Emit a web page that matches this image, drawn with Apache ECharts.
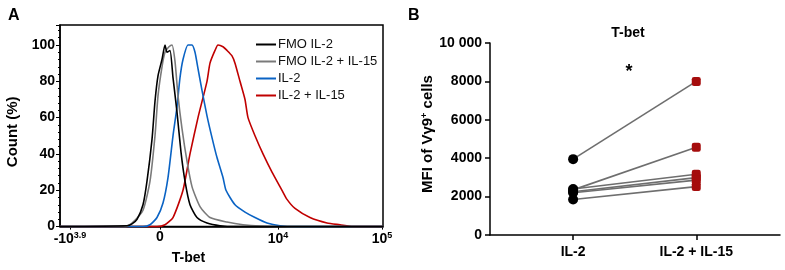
<!DOCTYPE html>
<html><head><meta charset="utf-8">
<script src="https://cdn.jsdelivr.net/npm/echarts@6/dist/echarts.min.js"></script>
<style>html,body{margin:0;padding:0;background:#fff}#c{width:785px;height:270px}</style>
</head><body><div id="c"></div>
<script>
// ---- Panel A: T-bet histograms (x = display channel on biexponential scale, y = count %) ----
const histNames = ['FMO IL-2', 'FMO IL-2 + IL-15', 'IL-2', 'IL-2 + IL-15'];
const histColors = ['#000000', '#7a7a7a', '#0a63c4', '#c00000'];
const fmoIL2 = [[0,0],[67,0.5],[72,1.5],[77,4],[83,12],[87,25],[92,48],[95,69],[98,83],[102,92],[105,100],[107,96],[110,97],[113,82],[117,63],[121,41],[125,25],[130,12],[137,5],[147,2],[160,0.5],[175,0],[323,0]];
const fmoIL2IL15 = [[0,0],[65,0],[72,2],[83,9],[90,25],[95,50],[98,72],[102,88],[105,96],[109,99],[112,100],[115,91],[118,72],[122,54],[127,36],[132,22],[140,11],[150,5],[167,2.5],[183,1],[200,0.3],[230,0],[323,0]];
const il2 = [[0,0],[83,0],[90,1],[97,5],[103,13],[108,27],[113,50],[117,66],[120,82],[123,92],[128,100],[132,100],[135,96],[138,87],[142,75],[147,61],[152,49],[157,38],[163,27],[166,20],[175,12],[185,8],[195,5],[207,2],[220,0.5],[235,0],[323,0]];
const il2IL15 = [[0,0],[97,0],[105,1],[113,5],[123,20],[130,40],[138,60],[147,80],[150,90],[155,97],[158,100],[163,99],[167,97],[172,94],[175,90],[180,80],[185,70],[188,60],[195,50],[203,40],[212,30],[222,20],[227,15],[235,10],[250,5],[267,2],[280,1],[293,0],[323,0]];
const histData = [fmoIL2, fmoIL2IL15, il2, il2IL15];
const xTickValues = [10, 100, 218, 322];
const xTickLabels = ['-10{s|3.9}', '0', '10{s|4}', '10{s|5}'];

// ---- Panel B: MFI of Vγ9+ cells, paired ----
const groups = ['IL-2', 'IL-2 + IL-15'];
const mfiIL2 = [3950, 2350, 2400, 2250, 2200, 1850];
const mfiIL2IL15 = [8000, 4570, 3160, 2990, 2860, 2520];

const FONT = 'Liberation Sans, Arial, sans-serif';
const series = [];
histNames.forEach((n, i) => {
  series.push({
    name: n, type: 'line', xAxisIndex: 0, yAxisIndex: 0,
    data: histData[i], symbol: 'none', smooth: 0.2,
    lineStyle: { color: histColors[i], width: 1.6 }, itemStyle: { color: histColors[i] },
    z: 10 - i
  });
});
mfiIL2.forEach((v, i) => {
  series.push({
    type: 'line', xAxisIndex: 1, yAxisIndex: 1,
    data: [[1, v], [2, mfiIL2IL15[i]]], symbol: 'none',
    lineStyle: { color: '#6e6e6e', width: 1.6 }, z: 2
  });
});
series.push({
  type: 'scatter', xAxisIndex: 1, yAxisIndex: 1, data: mfiIL2.map(v => [1, v]),
  symbol: 'circle', symbolSize: 10, itemStyle: { color: '#000', opacity: 1 }, z: 5
});
series.push({
  type: 'scatter', xAxisIndex: 1, yAxisIndex: 1, data: mfiIL2IL15.map(v => [2, v]),
  symbol: 'roundRect', symbolSize: 9, itemStyle: { color: '#a50d0d', opacity: 1 }, z: 5
});

const chart = echarts.init(document.getElementById('c'), null, { renderer: 'canvas' });
chart.setOption({
  animation: false,
  textStyle: { fontFamily: FONT },
  title: [
    { text: 'A', left: 3, top: 3, textStyle: { fontSize: 16, fontWeight: 'bold', color: '#000', fontFamily: FONT } },
    { text: 'B', left: 403, top: 3, textStyle: { fontSize: 16, fontWeight: 'bold', color: '#000', fontFamily: FONT } },
    { text: 'T-bet', left: 623, top: 21, textAlign: 'center', textStyle: { fontSize: 14, fontWeight: 'bold', color: '#000', fontFamily: FONT } },
    { text: '*', left: 624, top: 58, textAlign: 'center', textStyle: { fontSize: 18, fontWeight: 'bold', color: '#000', fontFamily: FONT } }
  ],
  legend: {
    data: histNames, orient: 'vertical', left: 251, top: 33,
    itemWidth: 20, itemHeight: 10, itemGap: 4,
    icon: 'path://M0,4 L20,4 L20,6 L0,6 Z',
    textStyle: { fontSize: 13, color: '#111', fontFamily: FONT, padding: [0, 0, 0, -3] }
  },
  grid: [
    { left: 60, right: 402, top: 25, bottom: 36, show: true, borderColor: '#000', borderWidth: 1.5 },
    { left: 490, right: 5, top: 43, bottom: 35 }
  ],
  xAxis: [
    {
      type: 'value', gridIndex: 0, min: 0, max: 323,
      name: 'T-bet', nameLocation: 'middle', nameGap: 17,
      nameTextStyle: { fontSize: 14, fontWeight: 'bold', color: '#000', padding: [0, 66, 0, 0] },
      axisLine: { show: true, lineStyle: { color: '#000', width: 1.5 } },
      axisTick: { show: true, length: 3, customValues: xTickValues, lineStyle: { color: '#000' } },
      splitLine: { show: false },
      axisLabel: {
        customValues: xTickValues, margin: 4, showMinLabel: true, showMaxLabel: true,
        formatter: v => xTickLabels[xTickValues.indexOf(v)] || '',
        fontSize: 14, fontWeight: 'bold', color: '#000',
        rich: { s: { fontSize: 9, fontWeight: 'bold', verticalAlign: 'top', padding: [0, 0, 8, 0] } }
      }
    },
    {
      type: 'value', gridIndex: 1, min: 0.325, max: 2.68,
      axisLine: { show: true, onZero: false, lineStyle: { color: '#000', width: 1.5 } },
      axisTick: { show: true, length: 5, customValues: [1, 2], lineStyle: { color: '#000', width: 1.5 } },
      splitLine: { show: false },
      axisLabel: {
        customValues: [1, 2], margin: 10,
        formatter: v => groups[Math.round(v) - 1] || '',
        fontSize: 14, fontWeight: 'bold', color: '#000'
      }
    }
  ],
  yAxis: [
    {
      type: 'value', gridIndex: 0, min: 0, max: 111, interval: 20,
      name: 'Count (%)', nameLocation: 'middle', nameGap: 40,
      nameTextStyle: { fontSize: 15, fontWeight: 'bold', color: '#000', padding: [0, 12, 0, 0] },
      axisLine: { show: true, lineStyle: { color: '#000', width: 1.5 } },
      axisTick: { show: true, length: 4, lineStyle: { color: '#000' } },
      minorTick: { show: true, splitNumber: 5, length: 2, lineStyle: { color: '#000' } },
      splitLine: { show: false },
      axisLabel: { fontSize: 14, fontWeight: 'bold', color: '#000', margin: 5, showMaxLabel: false,
        formatter: v => (v <= 100 ? String(v) : '') }
    },
    {
      type: 'value', gridIndex: 1, min: 0, max: 10000, interval: 2000,
      name: '{a|MFI of Vγ9}{s|+}{a| cells}', nameLocation: 'middle', nameGap: 53,
      nameTextStyle: { padding: [0, 0, 0, 10], rich: {
        a: { fontSize: 15, fontWeight: 'bold', color: '#000', fontFamily: FONT },
        s: { fontSize: 9, fontWeight: 'bold', color: '#000', fontFamily: FONT, verticalAlign: 'top', padding: [0, 0, 7, 0] } } },
      axisLine: { show: true, lineStyle: { color: '#000', width: 1.5 } },
      axisTick: { show: true, length: 5, lineStyle: { color: '#000', width: 1.5 } },
      splitLine: { show: false },
      axisLabel: { fontSize: 14, fontWeight: 'bold', color: '#000', margin: 8,
        formatter: v => (v >= 10000 ? '10 000' : String(v)) }
    }
  ],
  series: series
});
</script></body></html>
